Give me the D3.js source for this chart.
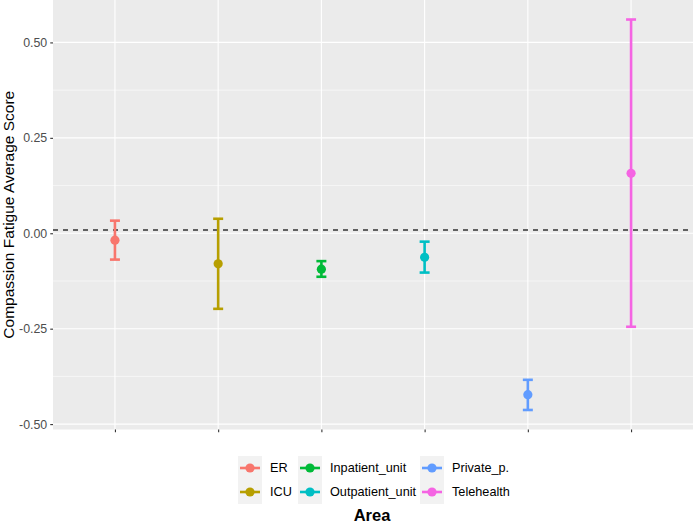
<!DOCTYPE html>
<html>
<head>
<meta charset="utf-8">
<script src="https://cdn.jsdelivr.net/npm/d3@7"></script>
<style>
  body { margin: 0; background: #fff; }
  svg { display: block; font-family: "Liberation Sans", Arial, sans-serif; }
</style>
</head>
<body>
<div id="vis"></div>
<script>
// data
const areas = ['ER', 'ICU', 'Inpatient_unit', 'Outpatient_unit', 'Private_p.', 'Telehealth']
const means = [-0.018, -0.080, -0.094, -0.063, -0.423, 0.157]
const lowers = [-0.069, -0.198, -0.114, -0.103, -0.463, -0.245]
const uppers = [0.033, 0.038, -0.073, -0.022, -0.384, 0.560]
const refLine = 0.0087
const yTicks = [-0.50, -0.25, 0.00, 0.25, 0.50]
const yMinor = [-0.375, -0.125, 0.125, 0.375]
const colors = ['#F8766D', '#B79F00', '#00BA38', '#00BFC4', '#619CFF', '#F564E3']

const W = 693, H = 526
const margin = {left: 53, top: 0, right: 0, bottom: 96.5}
const pw = W - margin.left - margin.right
const ph = H - margin.top - margin.bottom

const dataset = areas.map((a, i) => ({area: a, mean: means[i], lo: lowers[i], hi: uppers[i]}))

const svg = d3.select('#vis').append('svg')
    .attr('width', W)
    .attr('height', H)

// ggplot-like scales: 5% expansion on y, 0.6 on discrete x
const lo = d3.min(lowers), hi = d3.max(uppers)
const pad = (hi - lo) * 0.05
const yScale = d3.scaleLinear([lo - pad, hi + pad], [margin.top + ph, margin.top])
const step = pw / (areas.length - 1 + 1.2)
const xScale = d3.scalePoint(areas, [margin.left + step * 0.6, margin.left + pw - step * 0.6])
const colorScale = d3.scaleOrdinal(areas, colors)

// panel
svg.append('rect')
    .attr('x', margin.left).attr('y', margin.top)
    .attr('width', pw).attr('height', ph)
    .attr('fill', '#EBEBEB')

const grid = svg.append('g')
grid.selectAll('.minor')
    .data(yMinor).enter()
    .append('line')
        .attr('x1', margin.left).attr('x2', margin.left + pw)
        .attr('y1', d => yScale(d)).attr('y2', d => yScale(d))
        .attr('stroke', '#fff').attr('stroke-width', 0.55)
grid.selectAll('.major')
    .data(yTicks).enter()
    .append('line')
        .attr('x1', margin.left).attr('x2', margin.left + pw)
        .attr('y1', d => yScale(d)).attr('y2', d => yScale(d))
        .attr('stroke', '#fff').attr('stroke-width', 1.1)
grid.selectAll('.vmajor')
    .data(areas).enter()
    .append('line')
        .attr('x1', d => xScale(d)).attr('x2', d => xScale(d))
        .attr('y1', margin.top).attr('y2', margin.top + ph)
        .attr('stroke', '#fff').attr('stroke-width', 1.1)

// axes
let yAxis = d3.axisLeft(yScale)
    .tickValues(yTicks)
    .tickSize(2.75)
    .tickPadding(3)
    .tickFormat(d3.format('.2f'))
svg.append('g')
    .attr('transform', `translate(${margin.left}, 0)`)
    .call(yAxis)
    .call(g => g.select('.domain').remove())
    .call(g => g.selectAll('.tick line').attr('stroke', '#333').attr('stroke-width', 1.1))
    .call(g => g.selectAll('.tick text')
        .attr('fill', '#4D4D4D')
        .attr('font-size', 12.4)
        .attr('font-family', '"Liberation Sans", Arial, sans-serif')
        .text(d => d3.format('.2f')(d).replace('−', '-')))

let xAxis = d3.axisBottom(xScale).tickSize(2.75).tickFormat('')
svg.append('g')
    .attr('transform', `translate(0, ${margin.top + ph})`)
    .call(xAxis)
    .call(g => g.select('.domain').remove())
    .call(g => g.selectAll('.tick line').attr('stroke', '#333').attr('stroke-width', 1.1))

svg.append('text')
    .attr('transform', `translate(13.5, ${margin.top + ph / 2}) rotate(-90)`)
    .attr('text-anchor', 'middle')
    .attr('font-size', 15.5)
    .attr('fill', '#000')
    .text('Compassion Fatigue Average Score')

// reference line
svg.append('line')
    .attr('x1', margin.left).attr('x2', margin.left + pw)
    .attr('y1', yScale(refLine)).attr('y2', yScale(refLine))
    .attr('stroke', '#333').attr('stroke-width', 1.6)
    .attr('stroke-dasharray', '5,5')

// error bars + points
const capW = 10
const bars = svg.append('g').selectAll('g')
    .data(dataset).enter()
    .append('g')
        .attr('stroke', d => colorScale(d.area))
        .attr('fill', d => colorScale(d.area))
bars.append('line')
    .attr('x1', d => xScale(d.area)).attr('x2', d => xScale(d.area))
    .attr('y1', d => yScale(d.lo)).attr('y2', d => yScale(d.hi))
    .attr('stroke-width', 2.6)
bars.append('line')
    .attr('x1', d => xScale(d.area) - capW / 2).attr('x2', d => xScale(d.area) + capW / 2)
    .attr('y1', d => yScale(d.hi)).attr('y2', d => yScale(d.hi))
    .attr('stroke-width', 2.6)
bars.append('line')
    .attr('x1', d => xScale(d.area) - capW / 2).attr('x2', d => xScale(d.area) + capW / 2)
    .attr('y1', d => yScale(d.lo)).attr('y2', d => yScale(d.lo))
    .attr('stroke-width', 2.6)
bars.append('circle')
    .attr('cx', d => xScale(d.area))
    .attr('cy', d => yScale(d.mean))
    .attr('r', 4.6)
    .attr('stroke', 'none')

// legend: 3 columns x 2 rows, filled by column
const colX = [238, 298, 420]
const rowY = [456, 480]
const keyS = 24
const legend = svg.append('g').selectAll('g')
    .data(areas).enter()
    .append('g')
        .attr('transform', (d, i) => `translate(${colX[Math.floor(i / 2)]}, ${rowY[i % 2]})`)
legend.append('rect')
    .attr('width', keyS).attr('height', keyS)
    .attr('fill', '#F2F2F2')
legend.append('line')
    .attr('x1', 2).attr('x2', keyS - 2)
    .attr('y1', keyS / 2).attr('y2', keyS / 2)
    .attr('stroke', d => colorScale(d)).attr('stroke-width', 2.6)
legend.append('circle')
    .attr('cx', keyS / 2).attr('cy', keyS / 2).attr('r', 4.6)
    .attr('fill', d => colorScale(d))
legend.append('text')
    .attr('x', keyS + 8)
    .attr('y', keyS / 2)
    .attr('dy', '0.35em')
    .attr('font-size', 12.7)
    .attr('fill', '#000')
    .text(d => d)

svg.append('text')
    .attr('x', 372).attr('y', 521)
    .attr('text-anchor', 'middle')
    .attr('font-size', 16.5)
    .attr('font-weight', 'bold')
    .text('Area')
</script>
</body>
</html>
